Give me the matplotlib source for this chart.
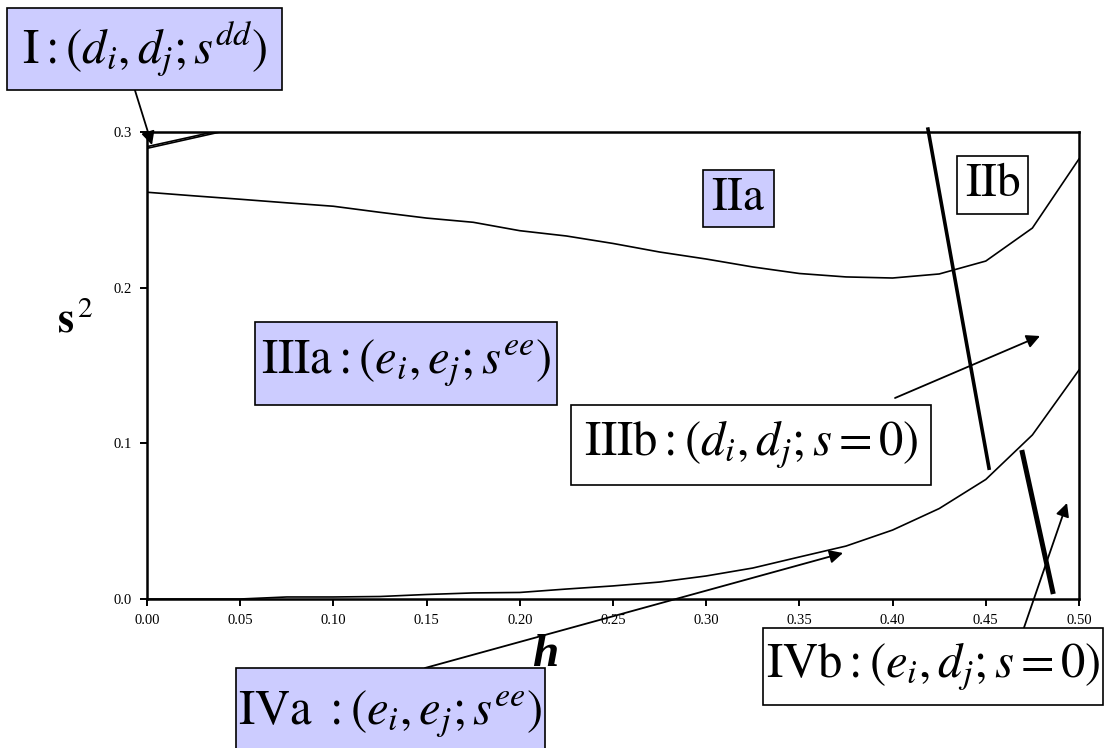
import matplotlib
matplotlib.use("Agg")
import matplotlib.pyplot as plt
from matplotlib.patches import Rectangle

plt.rcParams['font.family'] = ['Liberation Serif', 'DejaVu Serif']
plt.rcParams['mathtext.fontset'] = 'stix'

# data
h = [0.0, 0.025, 0.05, 0.075, 0.1, 0.125, 0.15, 0.175, 0.2, 0.225, 0.25,
     0.275, 0.3, 0.325, 0.35, 0.375, 0.4, 0.425, 0.45, 0.475, 0.5]
upper = [0.2613, 0.2590, 0.2568, 0.2545, 0.2523, 0.2484, 0.2447, 0.2420,
         0.2366, 0.2332, 0.2284, 0.2229, 0.2184, 0.2133, 0.2091, 0.2069,
         0.2062, 0.2088, 0.2171, 0.2383, 0.2827]
lower = [0.0, 0.0, 0.0, 0.0013, 0.0013, 0.0016, 0.0029, 0.0039, 0.0042,
         0.0064, 0.0084, 0.0109, 0.0148, 0.0199, 0.0270, 0.0340, 0.0443,
         0.0581, 0.0768, 0.1054, 0.1471]
h_top = [0.0, 0.025, 0.05]
top_a = [0.2906, 0.2972, 0.3039]
top_b = [0.2895, 0.2962, 0.3029]

# hand drawn phase borders
border1_h = [0.4188, 0.4519]
border1_s = [0.3030, 0.0829]
border2_h = [0.4693, 0.4862]
border2_s = [0.0957, 0.0032]

xticks = [0.0, 0.05, 0.1, 0.15, 0.2, 0.25, 0.3, 0.35, 0.4, 0.45, 0.5]
yticks = [0.0, 0.1, 0.2, 0.3]

W, H = 1111, 748
fig = plt.figure(figsize=(W / 100, H / 100), dpi=100)
ax = fig.add_axes([147 / W, 1 - 599 / H, 932 / W, 467 / H])

ax.plot(h, upper, color='black', lw=1.2)
ax.plot(h, lower, color='black', lw=1.2)
ax.plot(h_top, top_a, color='black', lw=1.2)
ax.plot(h_top, top_b, color='black', lw=1.2)
ax.plot(border1_h, border1_s, color='black', lw=2.6, clip_on=False, solid_capstyle='butt')
ax.plot(border2_h, border2_s, color='black', lw=3.6, clip_on=False, solid_capstyle='butt')

ax.set_xlim(0, 0.5)
ax.set_ylim(0, 0.3)
ax.set_xticks(xticks)
ax.set_yticks(yticks)
ax.set_xticklabels(["%.2f" % v for v in xticks])
ax.set_yticklabels(["%.1f" % v for v in yticks])
ax.tick_params(direction='out', length=5, width=1.4, labelsize=10.5, pad=6)
for sp in ax.spines.values():
    sp.set_linewidth(1.8)

# axis titles
fig.text(75 / W, 1 - 322 / H, r'$\mathbf{s}^{\,2}$', fontsize=30,
         ha='center', va='center')
fig.text(545 / W, 1 - 655 / H, 'h', fontsize=34, fontweight='bold',
         fontstyle='italic', ha='center', va='center')

lav = '#CCCCFF'


def box(l, t, r, b, txt, color, size=35):
    fig.patches.append(Rectangle((l / W, 1 - b / H), (r - l) / W, (b - t) / H,
                                 transform=fig.transFigure, facecolor=color,
                                 edgecolor='black', lw=1.2, zorder=5))
    fig.text((l + r) / 2 / W, 1 - (t + b) / 2 / H, txt, fontsize=size,
             ha='center', va='center', zorder=6)


def arrow(x0, y0, x1, y1):
    ax.annotate('', xy=(x1, H - y1), xytext=(x0, H - y0),
                xycoords='figure pixels', textcoords='figure pixels',
                annotation_clip=False,
                arrowprops=dict(arrowstyle='-|>', color='black', lw=1.3,
                                mutation_scale=20, shrinkA=0, shrinkB=0))


box(7, 8, 282, 90, r'$\mathrm{I}:(d_i,d_j;s^{dd})$', lav)
box(703, 170, 774, 227, r'$\mathrm{IIa}$', lav, 34)
box(957, 156, 1028, 214, r'$\mathrm{IIb}$', 'white', 34)
box(255, 322, 557, 405, r'$\mathrm{IIIa}:(e_i,e_j;s^{ee})$', lav)
box(571, 405, 931, 485, r'$\mathrm{IIIb}:(d_i,d_j;s=0)$', 'white')
box(236, 668, 545, 760, r'$\mathrm{IVa}\ :(e_i,e_j;s^{ee})$', lav)
box(763, 628, 1103, 705, r'$\mathrm{IVb}:(e_i,d_j;s=0)$', 'white')

arrow(133, 84, 152, 145)
arrow(895, 398, 1040, 336)
arrow(425, 668, 843, 553)
arrow(1018, 645, 1067, 503)

fig.savefig('out.png', dpi=100)
